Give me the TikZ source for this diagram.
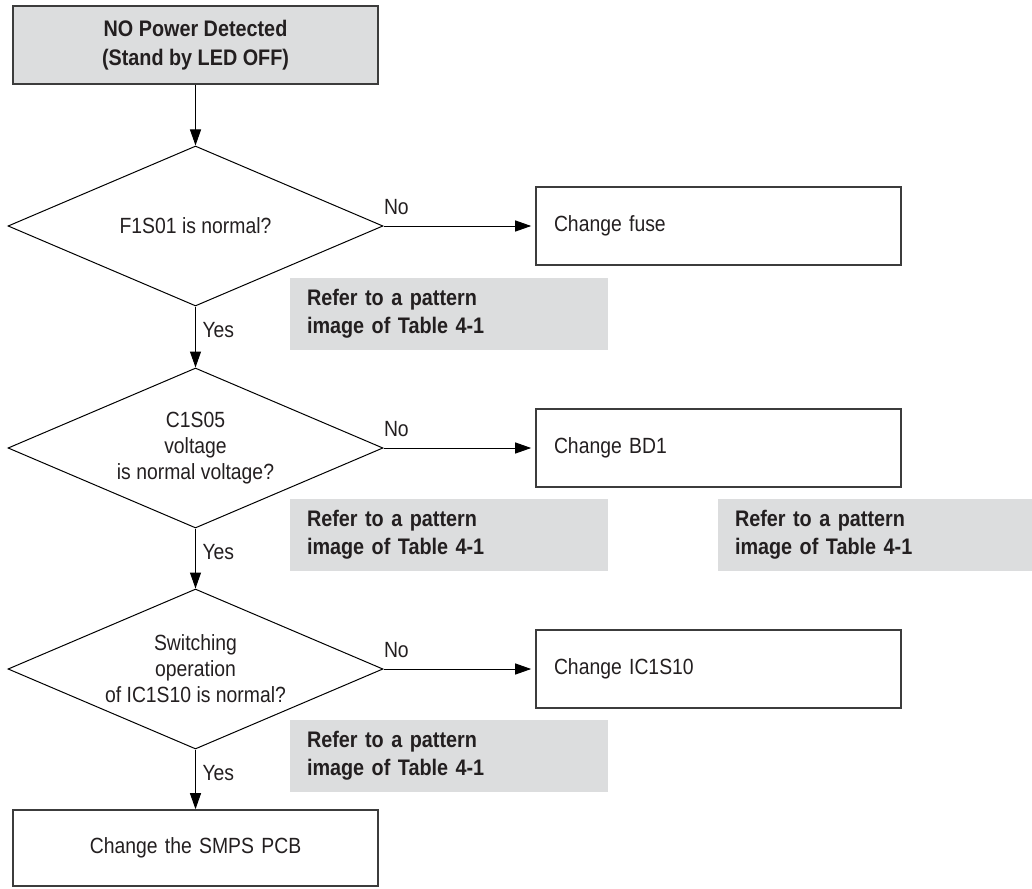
\documentclass[tikz,border=0pt]{standalone}
\usepackage{fontspec}
\setmainfont[FakeStretch=0.88]{Liberation Sans}
\usetikzlibrary{shapes.geometric,arrows.meta}
\definecolor{boxgray}{HTML}{DCDDDE}
\definecolor{inkgray}{HTML}{231F20}
\definecolor{edgegray}{HTML}{3C3C3C}
\tikzset{
  startbox/.style={shape=rectangle, draw=edgegray, line width=1.6pt, fill=boxgray, minimum width=365pt, minimum height=78pt, align=center, font=\bfseries\fontsize{22.5}{29}\selectfont},
  decision/.style={shape=diamond, draw=black, line width=1pt, minimum width=375pt, minimum height=160pt, aspect=2.34, inner sep=0pt, align=center},
  action/.style={shape=rectangle, draw=edgegray, line width=1.6pt, minimum width=365pt, minimum height=78pt, inner xsep=18pt, text width=329pt, align=left},
  note/.style={shape=rectangle, fill=boxgray, minimum width=318pt, minimum height=72pt, inner xsep=17pt, text width=284pt, align=left, font=\bfseries\fontsize{22.5}{28}\selectfont},
  flow/.style={-{Triangle[length=16pt,width=11pt]}, line width=1pt, draw=black},
  nolabel/.style={pos=0, anchor=south west, inner sep=0pt, yshift=11pt},
  yeslabel/.style={pos=0, anchor=north west, inner sep=0pt, xshift=6.5pt, yshift=-15pt}
}
\begin{document}
\begin{tikzpicture}[x=1pt, y=-1pt, font=\fontsize{22}{26}\selectfont, text=inkgray]
\useasboundingbox (0,0) rectangle (1032,888);
\node[startbox] (start) at (195.5,45) {NO Power Detected\\(Stand by LED OFF)};
\node[decision] (d1) at (195.5,226) {F1S01 is normal?};
\node[action] (fuse) at (718.5,226) {Change fuse};
\node[note] (n1) at (449,314) {Refer to a pattern\\image of Table 4-1};
\node[decision] (d2) at (195.5,448) {C1S05\\voltage\\is normal voltage?};
\node[action] (bd) at (718.5,448) {Change BD1};
\node[note] (n2) at (449,535) {Refer to a pattern\\image of Table 4-1};
\node[note, minimum width=314pt, text width=280pt] (n3) at (875,535) {Refer to a pattern\\image of Table 4-1};
\node[decision] (d3) at (195.5,669) {Switching\\operation\\of IC1S10 is normal?};
\node[action] (ic) at (718.5,669) {Change IC1S10};
\node[note] (n4) at (449,756) {Refer to a pattern\\image of Table 4-1};
\node[action, minimum height=76pt, align=center] (pcb) at (195.5,848) {Change the SMPS PCB};
\path [flow] (start) edge (d1);
\path [flow, shorten >=4pt] (d1) edge node[nolabel] {No} (fuse);
\path [flow] (d1) edge node[yeslabel] {Yes} (d2);
\path [flow, shorten >=4pt] (d2) edge node[nolabel] {No} (bd);
\path [flow] (d2) edge node[yeslabel] {Yes} (d3);
\path [flow, shorten >=4pt] (d3) edge node[nolabel] {No} (ic);
\path [flow] (d3) edge node[yeslabel] {Yes} (pcb);
\end{tikzpicture}
\end{document}
